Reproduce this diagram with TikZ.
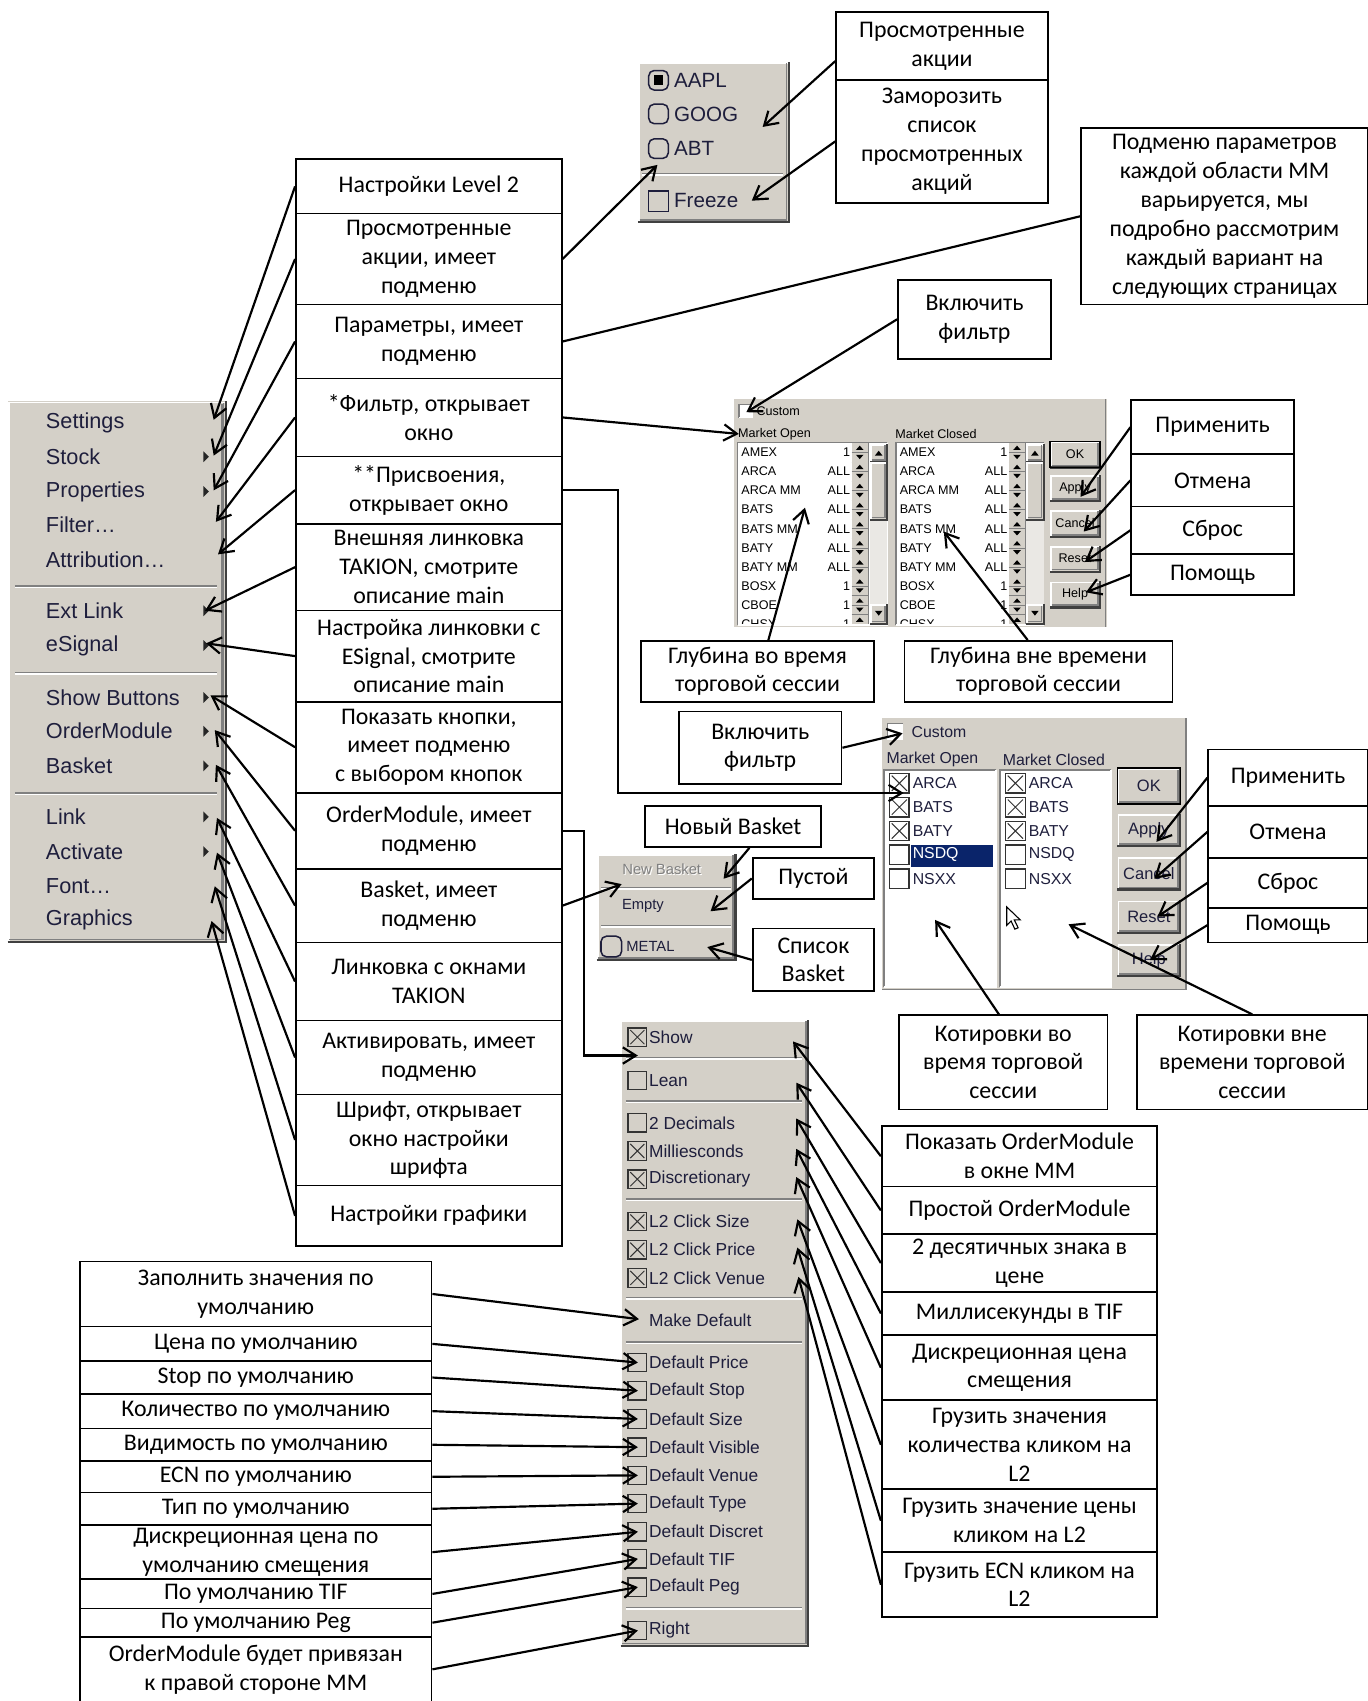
\documentclass[tikz,border=0pt]{standalone}
\usepackage{fontspec}
\setmainfont{Carlito}
\newfontfamily\uifont{Liberation Sans}
\usetikzlibrary{arrows.meta,calc}
\definecolor{winbg}{HTML}{D4D0C8}
\definecolor{winsh}{HTML}{808080}
\definecolor{windk}{HTML}{404040}
\definecolor{winsel}{HTML}{0A246A}
\definecolor{wtrack}{HTML}{EAE8E4}
\definecolor{uitxt}{HTML}{1E1E3C}
\newcommand\fmenu{\uifont\fontsize{10}{12}\selectfont}
\newcommand\fom{\uifont\fontsize{8}{10}\selectfont}
\newcommand\fwid{\uifont\fontsize{9.5}{11}\selectfont}
\newcommand\fbas{\uifont\fontsize{6.8}{8}\selectfont}
\newcommand\fwa{\uifont\fontsize{5.8}{7}\selectfont}
\newcommand\fwb{\uifont\fontsize{7.3}{9}\selectfont}
\newcommand\fbtb{\uifont\fontsize{7.6}{9}\selectfont}
\tikzset{
 box/.style={draw=black, line width=0.8pt, fill=white, align=center, inner sep=0pt, font=\fontsize{11}{13.3}\selectfont},
 arr/.style={line width=1pt, -{Straight Barb[length=6pt,width=7.5pt]}},
 plainline/.style={line width=1pt},
 mtext/.style={anchor=west, inner sep=0pt, text=uitxt, font=\fmenu},
 omtext/.style={anchor=west, inner sep=0pt, text=uitxt, font=\fom},
 wtext/.style={anchor=west, inner sep=0pt, text=uitxt, font=\fwid},
 btext/.style={anchor=west, inner sep=0pt, text=uitxt, font=\fbas},
 atext/.style={inner sep=0pt, text=black, font=\fwa},
 ctext/.style={inner sep=0pt, text=uitxt, font=\fwb},
 bta/.style={inner sep=0pt, text=black, font=\fwa},
 btb/.style={inner sep=0pt, text=uitxt, font=\fbtb},
}
\newcommand\bx[6]{\node[box, anchor=north west, minimum width={(#4-#2)*0.5pt}, minimum height={(#5-#3)*0.5pt}] (#1) at (#2,#3) {#6};}
\newcommand\wraised[4]{%
 \fill[winbg] (#1,#2) rectangle (#3,#4);
 \draw[white, line width=0.8pt] (#1+1,#4-1) -- (#1+1,#2+1) -- (#3-1,#2+1);
 \draw[winsh, line width=0.8pt] (#1+1.5,#4-2) -- (#3-2,#4-2) -- (#3-2,#2+1.5);
 \draw[windk, line width=1pt] (#1,#4) -- (#3,#4) -- (#3,#2);}
\newcommand\wsunk[4]{%
 \fill[white] (#1,#2) rectangle (#3,#4);
 \draw[winsh, line width=0.7pt] (#1,#4) -- (#1,#2) -- (#3,#2);
 \draw[white, line width=0.7pt] (#1,#4) -- (#3,#4) -- (#3,#2);}
\newcommand\msep[3]{\draw[winsh, line width=0.7pt] (#1,#3) -- (#2,#3); \draw[white, line width=0.7pt] (#1,#3+1.4) -- (#2,#3+1.4);}
\newcommand\subarr[2]{\fill[black!85] (#1-2.5,#2-5) -- (#1+2.5,#2) -- (#1-2.5,#2+5) -- cycle;}
\newcommand\chk[3]{\draw[line width=0.6pt, black!80] (#1,#2-#3/2) rectangle (#1+#3,#2+#3/2);}
\newcommand\xmark[3]{\draw[line width=0.45pt, black!80] (#1+2,#2-#3/2+2) -- (#1+#3-2,#2+#3/2-2) (#1+2,#2+#3/2-2) -- (#1+#3-2,#2-#3/2+2);}
\newcommand\spin[2]{%
 \fill[winbg] (#1,#2-8.8) rectangle (#1+15,#2+8.8);
 \draw[winsh, line width=0.3pt] (#1,#2+8.8) -- (#1+15,#2+8.8) -- (#1+15,#2-8.8) (#1,#2) -- (#1+15,#2);
 \fill[black] (#1+4,#2-2.2) -- (#1+11,#2-2.2) -- (#1+7.5,#2-6.2) -- cycle;
 \fill[black] (#1+4,#2+2.2) -- (#1+11,#2+2.2) -- (#1+7.5,#2+6.2) -- cycle;}
\newcommand\sbar[4]{%
 \fill[wtrack] (#1,#2) rectangle (#3,#4);
 \wraised{#1}{#2}{#3}{#2+17}
 \wraised{#1}{#2+17}{#3}{#2+70}
 \wraised{#1}{#4-18}{#3}{#4}
 \fill[black] (#1+4.5,#2+11) -- (#3-4.5,#2+11) -- ({(#1+#3)/2},#2+6.5) -- cycle;
 \fill[black] (#1+4.5,#4-12) -- (#3-4.5,#4-12) -- ({(#1+#3)/2},#4-7.5) -- cycle;}
\newcommand\btn[7]{%
 \wraised{#2}{#3}{#4}{#5}
 \node[#7] (#1) at ({(#2+#4)/2},{(#3+#5)/2}) {#6};}
\begin{document}
\begin{tikzpicture}[x=0.5pt,y=-0.5pt]
\useasboundingbox (0,0) rectangle (1261,1568);
\fill[white] (0,0) rectangle (1261,1568);

% ---------- left context menu ----------
\wraised{7}{370}{208}{868}
\draw[winsh, line width=1.2pt] (205,372) -- (205,866);
\msep{14}{200}{540}
\msep{14}{200}{620}
\msep{14}{200}{731}
\foreach \t/\y/\s [count=\i] in {Settings/390/0, Stock/421/1, Properties/453/1, Filter…/484/0, Attribution…/516/0, Ext Link/563/1, eSignal/595/1, Show Buttons/643/1, OrderModule/674/1, Basket/706/1, Link/753/1, Activate/785/1, Font…/817/0, Graphics/848/0}{
  \node[mtext] (m\i) at (42,\y) {\t};
  \ifnum\s=1 \subarr{190}{\y}\fi
}

% ---------- AAPL widget ----------
\wraised{588}{57}{727}{205}
\draw[line width=0.7pt, rounded corners=2.5pt, uitxt] (598,65) rectangle (616,83);
\fill[black] (602.5,69.5) rectangle (611.5,78.5);
\node[wtext] (wAAPL) at (621,74) {AAPL};
\draw[line width=0.7pt, rounded corners=2.5pt, uitxt] (598,96) rectangle (616,114);
\node[wtext] (wGOOG) at (621,105) {GOOG};
\draw[line width=0.7pt, rounded corners=2.5pt, uitxt] (598,128) rectangle (616,146);
\node[wtext] (wABT) at (621,137) {ABT};
\msep{592}{722}{160}
\draw[line width=0.7pt, uitxt] (598,176) rectangle (616,195);
\node[wtext] (wFreeze) at (621,185) {Freeze};

% ---------- Basket widget ----------
\wraised{550}{787}{678}{885}
\node[btext, anchor=center, text=white] (bNewSh) at (611,802) {New Basket};
\node[btext, anchor=center, text=winsh] (bNew) at (610,801) {New Basket};
\msep{554}{674}{818}
\node[btext] (bEmpty) at (573,835) {Empty};
\msep{554}{674}{853}
\draw[line width=0.7pt, rounded corners=2.5pt, uitxt] (554,863) rectangle (573,882);
\node[btext] (bMetal) at (577,872) {METAL};

% ---------- filter window 1 ----------
\fill[winbg] (677,368) rectangle (1020,578);
\draw[winsh, line width=0.8pt] (1019,368) -- (1019,578);
\wsunk{681}{373}{693}{385}
\node[atext, anchor=west] (w1cust) at (697,379) {Custom};
\node[atext, anchor=west] (w1mo) at (680,400) {Market Open};
\node[atext, anchor=west] (w1mc) at (825,400) {Market Closed};
\wsunk{680}{408}{818}{576}
\wsunk{826}{408}{962}{576}
\begin{scope}
 \clip (681,409) rectangle (801,575);
 \foreach \n/\v [count=\i from 0] in {AMEX/1,ARCA/ALL,ARCA MM/ALL,BATS/ALL,BATS MM/ALL,BATY/ALL,BATY MM/ALL,BOSX/1,CBOE/1,CHSX/1}{
  \pgfmathsetmacro\yy{417+17.6*\i}
  \node[atext, anchor=west] (wla\i) at (683,\yy) {\n};
  \node[atext, anchor=east] (wlb\i) at (784,\yy) {\v};
  \spin{785}{\yy}
 }
\end{scope}
\sbar{802}{409}{818}{575}
\begin{scope}
 \clip (827,409) rectangle (946,575);
 \foreach \n/\v [count=\i from 0] in {AMEX/1,ARCA/ALL,ARCA MM/ALL,BATS/ALL,BATS MM/ALL,BATY/ALL,BATY MM/ALL,BOSX/1,CBOE/1,CHSX/1}{
  \pgfmathsetmacro\yy{417+17.6*\i}
  \node[atext, anchor=west] (wra\i) at (829,\yy) {\n};
  \node[atext, anchor=east] (wrb\i) at (929,\yy) {\v};
  \spin{930}{\yy}
 }
\end{scope}
\sbar{946}{409}{962}{575}
\btn{w1ok}{968}{407}{1014}{431}{OK}{bta}
\draw[black, line width=0.6pt] (968,407) rectangle (1014,431);
\btn{w1ap}{968}{438}{1014}{462}{Apply}{bta}
\btn{w1ca}{968}{470}{1014}{495}{Cancel}{bta}
\btn{w1re}{968}{503}{1014}{527}{Reset}{bta}
\btn{w1he}{968}{536}{1014}{560}{Help}{bta}

% ---------- filter window 2 ----------
\fill[winbg] (813,662) rectangle (1094,913);
\draw[winsh, line width=0.8pt] (1093,662) -- (1093,912) -- (813,912);
\wsunk{818}{667}{832}{681}
\node[ctext, anchor=west] (w2cust) at (840,675) {Custom};
\node[ctext, anchor=west] (w2mo) at (817,700) {Market Open};
\node[ctext, anchor=west] (w2mc) at (924,700) {Market Closed};
\wsunk{815}{710}{918}{910}
\wsunk{922}{710}{1024}{910}
\fill[winsel] (840,779) rectangle (915,799);
\chk{820}{722}{18}\xmark{820}{722}{18}
\node[ctext, anchor=west] (w2l1) at (841,722) {ARCA};
\chk{820}{744}{18}\xmark{820}{744}{18}
\node[ctext, anchor=west] (w2l2) at (841,744) {BATS};
\chk{820}{766}{18}\xmark{820}{766}{18}
\node[ctext, anchor=west] (w2l3) at (841,766) {BATY};
\chk{820}{788}{18}
\node[ctext, anchor=west, text=white] (w2l4) at (841,788) {NSDQ};
\chk{820}{810}{18}
\node[ctext, anchor=west] (w2l5) at (841,810) {NSXX};
\foreach \n/\c [count=\i from 0] in {ARCA/1,BATS/1,BATY/1,NSDQ/0,NSXX/0}{
  \pgfmathsetmacro\yy{722+22*\i}
  \chk{927}{\yy}{18}
  \ifnum\c=1 \xmark{927}{\yy}{18}\fi
  \node[ctext, anchor=west] (w2r\i) at (948,\yy) {\n};
}
\btn{w2ok}{1030}{708}{1088}{741}{OK}{btb}
\draw[black, line width=0.7pt] (1030,708) rectangle (1088,741);
\btn{w2ap}{1030}{750}{1088}{780}{Apply}{btb}
\btn{w2ca}{1030}{790}{1088}{820}{Cancel}{btb}
\btn{w2re}{1030}{830}{1088}{860}{Reset}{btb}
\btn{w2he}{1030}{870}{1088}{900}{Help}{btb}
\draw[fill=white, line width=0.5pt] (928,836) -- ++(0,17) -- ++(4,-4) -- ++(3.5,7.5) -- ++(3,-1.3) -- ++(-3.5,-7.2) -- ++(5.5,0) -- cycle;

% ---------- OrderModule menu ----------
\wraised{572}{940}{745}{1517}
\foreach \s in {975,1015,1105,1196,1237,1482}{\msep{577}{739}{\s}}
\foreach \t/\y/\c [count=\i] in {Show/956/2, Lean/996/1, 2 Decimals/1035/1, Milliesconds/1061/2, Discretionary/1087/2, L2 Click Size/1126/2, L2 Click Price/1152/2, L2 Click Venue/1178/2, Make Default/1217/0, Default Price/1256/1, Default Stop/1282/1, Default Size/1308/1, Default Visible/1334/1, Default Venue/1360/1, Default Type/1386/1, Default Discret/1412/1, Default TIF/1437/1, Default Peg/1463/1, Right/1503/1}{
  \node[omtext] (om\i) at (598,\y) {\t};
  \ifnum\c>0 \chk{579}{\y}{17}\fi
  \ifnum\c=2 \xmark{579}{\y}{17}\fi
}

% ---------- text boxes ----------
\bx{c1}{272}{146}{517}{196}{Настройки Level 2}
\bx{c2}{272}{196}{517}{280}{Просмотренные\\акции, имеет\\подменю}
\bx{c3}{272}{280}{517}{348}{Параметры, имеет\\подменю}
\bx{c4}{272}{348}{517}{420}{*Фильтр, открывает\\окно}
\bx{c5}{272}{420}{517}{482}{**Присвоения,\\открывает окно}
\bx{c6}{272}{482}{517}{562}{Внешняя линковка\\TAKION, смотрите\\описание main}
\bx{c7}{272}{562}{517}{646}{Настройка линковки с\\ESignal, смотрите\\описание main}
\bx{c8}{272}{646}{517}{730}{Показать кнопки,\\имеет подменю\\с выбором кнопок}
\bx{c9}{272}{730}{517}{800}{OrderModule, имеет\\подменю}
\bx{c10}{272}{800}{517}{868}{Basket, имеет\\подменю}
\bx{c11}{272}{868}{517}{940}{Линковка с окнами\\TAKION}
\bx{c12}{272}{940}{517}{1008}{Активировать, имеет\\подменю}
\bx{c13}{272}{1008}{517}{1092}{Шрифт, открывает\\окно настройки\\шрифта}
\bx{c14}{272}{1092}{517}{1148}{Настройки графики}

\bx{t1}{770}{10}{965}{73}{Просмотренные\\акции}
\bx{t2}{770}{73}{965}{186}{Заморозить\\список\\просмотренных\\акций}
\bx{tr}{996}{117}{1260}{280}{Подменю параметров\\каждой области MM\\варьируется, мы\\подробно рассмотрим\\каждый вариант на\\следующих страницах}
\bx{vf1}{827}{257}{968}{330}{Включить\\фильтр}
\bx{p1}{1042}{368}{1192}{418}{Применить}
\bx{o1}{1042}{418}{1192}{466}{Отмена}
\bx{s1}{1042}{466}{1192}{510}{Сброс}
\bx{h1}{1042}{510}{1192}{548}{Помощь}
\bx{g1}{590}{590}{805}{646}{Глубина во время\\торговой сессии}
\bx{g2}{833}{590}{1080}{646}{Глубина вне времени\\торговой сессии}
\bx{vf2}{625}{655}{775}{722}{Включить\\фильтр}
\bx{p2}{1113}{690}{1260}{742}{Применить}
\bx{o2}{1113}{742}{1260}{790}{Отмена}
\bx{s2}{1113}{790}{1260}{836}{Сброс}
\bx{h2}{1113}{836}{1260}{868}{Помощь}
\bx{nb}{594}{742}{756}{780}{Новый Basket}
\bx{pb}{693}{790}{805}{828}{Пустой}
\bx{sb}{693}{855}{805}{913}{Список\\Basket}
\bx{k1}{828}{935}{1020}{1022}{Котировки во\\время торговой\\сессии}
\bx{k2}{1047}{935}{1260}{1022}{Котировки вне\\времени торговой\\сессии}

\bx{r1}{812}{1037}{1066}{1093}{Показать OrderModule\\в окне MM}
\bx{r2}{812}{1093}{1066}{1137}{Простой OrderModule}
\bx{r3}{812}{1137}{1066}{1190}{2 десятичных знака в\\цене}
\bx{r4}{812}{1190}{1066}{1230}{Миллисекунды в TIF}
\bx{r5}{812}{1230}{1066}{1290}{Дискреционная цена\\смещения}
\bx{r6}{812}{1290}{1066}{1372}{Грузить значения\\количества кликом на\\L2}
\bx{r7}{812}{1372}{1066}{1430}{Грузить значение цены\\кликом на L2}
\bx{r8}{812}{1430}{1066}{1490}{Грузить ECN кликом на\\L2}

\bx{d1}{73}{1162}{397}{1222}{Заполнить значения по\\умолчанию}
\bx{d2}{73}{1222}{397}{1254}{Цена по умолчанию}
\bx{d3}{73}{1254}{397}{1284}{Stop по умолчанию}
\bx{d4}{73}{1284}{397}{1316}{Количество по умолчанию}
\bx{d5}{73}{1316}{397}{1346}{Видимость по умолчанию}
\bx{d6}{73}{1346}{397}{1375}{ECN по умолчанию}
\bx{d7}{73}{1375}{397}{1405}{Тип по умолчанию}
\bx{d8}{73}{1405}{397}{1455}{Дискреционная цена по\\умолчанию смещения}
\bx{d9}{73}{1455}{397}{1482}{По умолчанию TIF}
\bx{d10}{73}{1482}{397}{1508}{По умолчанию Peg}
\bx{d11}{73}{1508}{397}{1568}{OrderModule будет привязан\\к правой стороне MM}

% ---------- arrow tips ----------
\coordinate (aSettings) at (197,387);
\coordinate (aStock) at (197,420);
\coordinate (aProp) at (197,452);
\coordinate (aFilter) at (199,481);
\coordinate (aAttr) at (201,511);
\coordinate (aExt) at (189,563);
\coordinate (aESig) at (190,593);
\coordinate (aShowB) at (194,641);
\coordinate (aOM) at (198,673);
\coordinate (aBasket) at (199,705);
\coordinate (aLink) at (200,754);
\coordinate (aAct) at (200,786);
\coordinate (aFont) at (198,817);
\coordinate (aGraph) at (195,849);

\draw[arr] (c1.west) -- (aSettings);
\draw[arr] (c2.west) -- (aStock);
\draw[arr] (c3.west) -- (aProp);
\draw[arr] (c4.west) -- (aFilter);
\draw[arr] (c5.west) -- (aAttr);
\draw[arr] (c6.west) -- (aExt);
\draw[arr] (c7.west) -- (aESig);
\draw[arr] (c8.west) -- (aShowB);
\draw[arr] (c9.west) -- (aOM);
\draw[arr] (c10.west) -- (aBasket);
\draw[arr] (c11.west) -- (aLink);
\draw[arr] (c12.west) -- (aAct);
\draw[arr] (c13.west) -- (aFont);
\draw[arr] (c14.west) -- (aGraph);

\coordinate (aABT) at (606,152);
\coordinate (aMO1) at (681,400);
\coordinate (aARCA2) at (833,731);
\coordinate (aShowOM) at (588,973);
\coordinate (aBasketW) at (573,815);
\draw[arr] (c2.east) -- (aABT);
\draw[plainline] (c3.east) -- (tr.west);
\draw[arr] (c4.east) -- (aMO1);
\draw[arr] (c5.east) -- ++(51,0) |- (aARCA2);
\draw[arr] (c9.east) -- ++(20,0) |- (aShowOM);
\draw[arr] (c10.east) -- (aBasketW);

\coordinate (aGOOG) at (703,117);
\coordinate (aFreeze) at (693,185);
\coordinate (aCust1) at (688,380);
\draw[arr] ([yshift=-7pt]t1.west) -- (aGOOG);
\draw[arr] (t2.west) -- (aFreeze);
\draw[arr] (vf1.west) -- (aCust1);

\coordinate (aAp1) at (996,458);
\coordinate (aCa1) at (999,490);
\coordinate (aRe1) at (1000,518);
\coordinate (aHe1) at (1001,546);
\draw[arr] (p1.west) -- (aAp1);
\draw[arr] (o1.west) -- (aCa1);
\draw[arr] (s1.west) -- (aRe1);
\draw[arr] (h1.west) -- (aHe1);

\coordinate (aDep1) at (742,468);
\coordinate (aDep2) at (870,490);
\draw[arr] ([xshift=5pt]g1.north) -- (aDep1);
\draw[arr] ([xshift=-5pt]g2.north) -- (aDep2);

\coordinate (aCust2) at (832,676);
\draw[arr] (vf2.east) -- (aCust2);
\coordinate (aAp2) at (1066,776);
\coordinate (aCa2) at (1064,810);
\coordinate (aRe2) at (1067,845);
\coordinate (aHe2) at (1060,885);
\draw[arr] (p2.west) -- (aAp2);
\draw[arr] (o2.west) -- (aCa2);
\draw[arr] (s2.west) -- (aRe2);
\draw[arr] (h2.west) -- (aHe2);

\coordinate (aQ1) at (862,848);
\coordinate (aQ2) at (985,852);
\draw[arr] ([xshift=-2pt]k1.north) -- (aQ1);
\draw[arr] (k2.north) -- (aQ2);

\coordinate (aNB) at (667,810);
\coordinate (aPB) at (655,840);
\coordinate (aSB) at (652,873);
\draw[arr] ([xshift=7.5pt]nb.south) -- (aNB);
\draw[arr] (pb.west) -- (aPB);
\draw[arr] (sb.west) -- (aSB);

\coordinate (oShow) at (731,960);
\coordinate (oLean) at (734,998);
\coordinate (oDec) at (734,1031);
\coordinate (oMil) at (734,1059);
\coordinate (oDis) at (734,1085);
\coordinate (oL2S) at (735,1124);
\coordinate (oL2P) at (735,1150);
\coordinate (oL2V) at (736,1177);
\draw[arr] (r1.west) -- (oShow);
\draw[arr] (r2.west) -- (oLean);
\draw[arr] (r3.west) -- (oDec);
\draw[arr] (r4.west) -- (oMil);
\draw[arr] (r5.west) -- (oDis);
\draw[arr] (r6.west) -- (oL2S);
\draw[arr] (r7.west) -- (oL2P);
\draw[arr] (r8.west) -- (oL2V);

\coordinate (oMD) at (589,1216);
\coordinate (oDP) at (588,1256);
\coordinate (oDSt) at (588,1282);
\coordinate (oDSz) at (588,1308);
\coordinate (oDVi) at (588,1334);
\coordinate (oDVe) at (588,1360);
\coordinate (oDTy) at (588,1386);
\coordinate (oDDi) at (588,1412);
\coordinate (oDTIF) at (588,1437);
\coordinate (oDPeg) at (588,1463);
\coordinate (oRight) at (588,1503);
\draw[arr] (d1.east) -- (oMD);
\draw[arr] (d2.east) -- (oDP);
\draw[arr] (d3.east) -- (oDSt);
\draw[arr] (d4.east) -- (oDSz);
\draw[arr] (d5.east) -- (oDVi);
\draw[arr] (d6.east) -- (oDVe);
\draw[arr] (d7.east) -- (oDTy);
\draw[arr] (d8.east) -- (oDDi);
\draw[arr] (d9.east) -- (oDTIF);
\draw[arr] (d10.east) -- (oDPeg);
\draw[arr] (d11.east) -- (oRight);
\end{tikzpicture}
\end{document}
